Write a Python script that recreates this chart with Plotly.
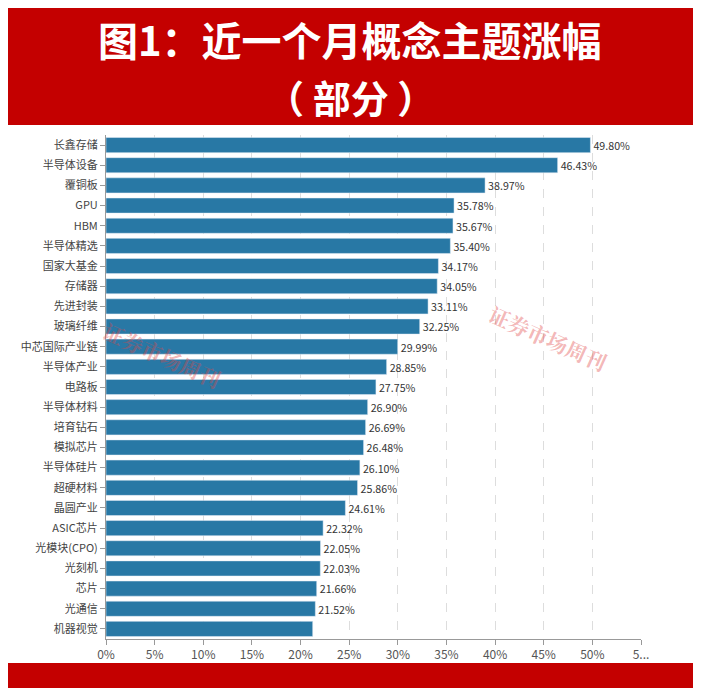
import plotly.graph_objects as go

categories = ["长鑫存储","半导体设备","覆铜板","GPU","HBM","半导体精选","国家大基金","存储器","先进封装","玻璃纤维",
              "中芯国际产业链","半导体产业","电路板","半导体材料","培育钻石","模拟芯片","半导体硅片","超硬材料","晶圆产业",
              "ASIC芯片","光模块(CPO)","光刻机","芯片","光通信","机器视觉"]
values = [49.80,46.43,38.97,35.78,35.67,35.40,34.17,34.05,33.11,32.25,29.99,28.85,27.75,26.90,26.69,26.48,26.10,25.86,
          24.61,22.32,22.05,22.03,21.66,21.52,21.25]
labels = [f"{v:.2f}%" for v in values[:-1]] + [""]
tickvals = [0,5,10,15,20,25,30,35,40,45,50,55]
ticktext = ["0%","5%","10%","15%","20%","25%","30%","35%","40%","45%","50%","5..."]

O = 8  # page body margin
W, H = 701, 696
L, R, T, B = 106-O, 60-O, 135-O, 57-O
FW, FH = W-2*O, H-2*O
pw, ph = FW-L-R, FH-T-B
def px(x): return (x-O-L)/pw
def py(y): return 1-(y-O-T)/ph

wm = dict(size=21, color="rgba(225,70,70,0.4)", family="Noto Serif CJK SC, Noto Sans CJK SC")
fig = go.Figure(go.Bar(
    y=categories, x=values, orientation="h", marker_color="#2878a5",
    text=labels, textposition="outside", cliponaxis=False,
    textfont=dict(size=12, color="#333"), width=0.75))
fig.update_layout(
    width=FW, height=FH, margin=dict(l=L, r=R, t=T, b=B),
    paper_bgcolor="#c40000", plot_bgcolor="white",
    font=dict(family="Noto Sans CJK SC"),
    showlegend=False,
    xaxis=dict(range=[0,55], tickvals=tickvals, ticktext=ticktext, showgrid=True,
               gridcolor="#dddddd", griddash="dash", showline=True, linecolor="#999",
               ticks="outside", tickcolor="#999", ticklen=5, tickfont=dict(size=12, color="#555"), zeroline=False),
    yaxis=dict(autorange="reversed", showline=True, linecolor="#999", ticks="outside", tickcolor="#999",
               ticklen=5, tickfont=dict(size=11, color="#444")),
    shapes=[dict(type="rect", xref="paper", yref="paper", x0=px(4), x1=px(693), y0=py(663), y1=py(125),
                 fillcolor="white", line_width=0, layer="below")],
    annotations=[
        dict(text="<b>图1：近一个月概念主题涨幅</b>", xref="paper", yref="paper", x=px(350), y=py(39),
             yanchor="middle", xanchor="center", showarrow=False, font=dict(size=40, color="white")),
        dict(text="<b>（ 部分 ）</b>", xref="paper", yref="paper", x=px(350), y=py(96),
             yanchor="middle", xanchor="center", showarrow=False, font=dict(size=38, color="white")),
        dict(text="<b>证券市场周刊</b>", xref="paper", yref="paper", x=px(162), y=py(355), showarrow=False,
             xanchor="center", yanchor="middle", textangle=24, font=wm),
        dict(text="<b>证券市场周刊</b>", xref="paper", yref="paper", x=px(548), y=py(338), showarrow=False,
             xanchor="center", yanchor="middle", textangle=24, font=wm),
    ])
fig.write_html("out.html")
